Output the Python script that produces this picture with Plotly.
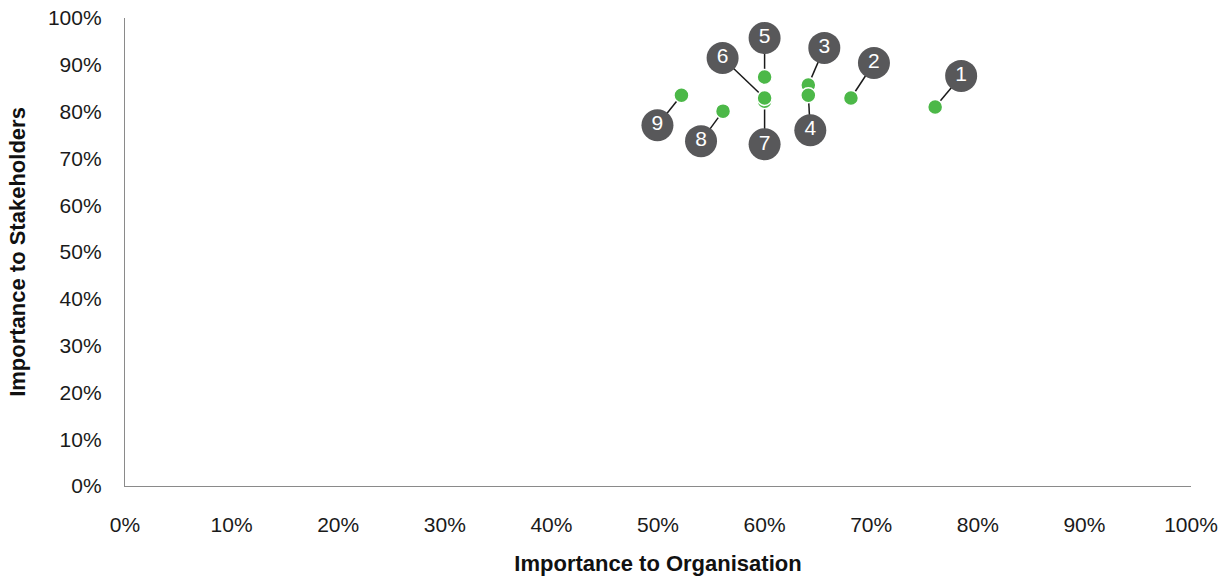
import plotly.graph_objects as go

# Materiality issues: importance to organisation (x) vs stakeholders (y)
issue_ids = ["1", "2", "3", "4", "5", "6", "7", "8", "9"]
importance_org = [0.76, 0.681, 0.641, 0.641, 0.60, 0.60, 0.60, 0.561, 0.522]
importance_stake = [0.81, 0.829, 0.857, 0.835, 0.874, 0.829, 0.822, 0.801, 0.835]

# label bubble offsets from each point, in screen pixels (dx right, dy up)
label_dx = [26, 23, 16, 2, 0, -42, 0, -22, -24]
label_dy = [31, 35, 37, -35, 39, 40, -43, -30, -30]
draw_order = [0, 1, 2, 3, 4, 6, 5, 7, 8]

W, H = 1231, 578
M_L, M_R, M_T, M_B = 125, 40, 18, 92
px_x = (W - M_L - M_R) / 1.0
px_y = (H - M_T - M_B) / 1.0

lab_x = [x + dx / px_x for x, dx in zip(importance_org, label_dx)]
lab_y = [y + dy / px_y for y, dy in zip(importance_stake, label_dy)]

GREEN = "#4cb848"
BUBBLE = "#58585a"
FONT = "Liberation Sans"

fig = go.Figure()

# leader lines
lx, ly = [], []
for x0, y0, x1, y1 in zip(importance_org, importance_stake, lab_x, lab_y):
    lx += [x0, x1, None]
    ly += [y0, y1, None]
fig.add_trace(go.Scatter(x=lx, y=ly, mode="lines",
                         line=dict(color="#1a1a1a", width=1.5),
                         hoverinfo="skip", showlegend=False))

# data points
fig.add_trace(go.Scatter(
    x=[importance_org[i] for i in draw_order],
    y=[importance_stake[i] for i in draw_order],
    mode="markers",
    marker=dict(size=15, color=GREEN, line=dict(color="white", width=1.5)),
    showlegend=False))

# numbered label bubbles
fig.add_trace(go.Scatter(
    x=lab_x, y=lab_y, mode="markers+text", text=issue_ids,
    textposition="middle center",
    textfont=dict(family=FONT, size=21, color="white"),
    marker=dict(size=32, color=BUBBLE, line=dict(width=0)),
    hoverinfo="skip", showlegend=False, cliponaxis=False))

axis_common = dict(
    range=[0, 1], tickformat=".0%", dtick=0.1, tick0=0,
    showgrid=False, zeroline=False, showline=True,
    linecolor="#8a8a8a", linewidth=1.3,
    tickfont=dict(family=FONT, size=21, color="#1a1a1a"),
    ticks="", fixedrange=True,
)

fig.update_layout(
    width=W, height=H,
    margin=dict(l=M_L, r=M_R, t=M_T, b=M_B, autoexpand=False),
    paper_bgcolor="white", plot_bgcolor="white",
    xaxis=dict(**axis_common, ticklabelstandoff=20,
               title=dict(text="<b>Importance to Organisation</b>",
                          font=dict(family=FONT, size=22, color="#111"),
                          standoff=20)),
    yaxis=dict(**axis_common, ticklabelstandoff=18,
               title=dict(text="<b>Importance to Stakeholders</b>",
                          font=dict(family=FONT, size=22, color="#111"),
                          standoff=16)),
)

fig.write_html("out.html", config={"displayModeBar": False})
